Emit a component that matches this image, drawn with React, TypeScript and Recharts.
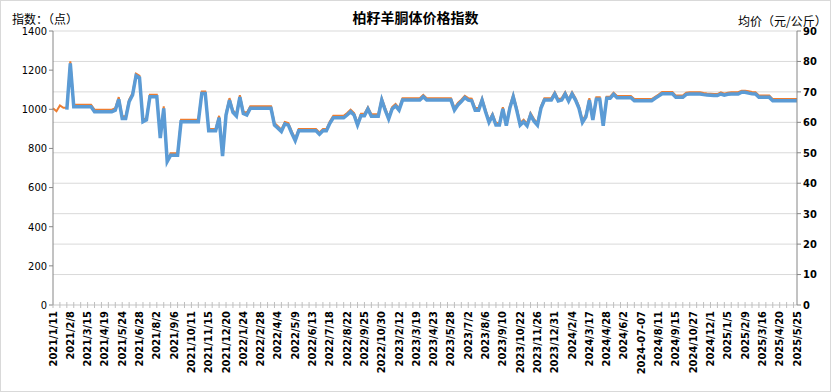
import React from "react";
import { LineChart, Line, XAxis, YAxis, CartesianGrid } from "recharts";

// x-axis labels, one every 5 weeks
const tickLabels = [
  "2021/1/11", "2021/2/8", "2021/3/15", "2021/4/19", "2021/5/24", "2021/6/28", "2021/8/2", "2021/9/6",
  "2021/10/11", "2021/11/15", "2021/12/20", "2022/1/24", "2022/2/28", "2022/4/4", "2022/5/9", "2022/6/13",
  "2022/7/18", "2022/8/22", "2022/9/25", "2022/10/30", "2023/2/12", "2023/3/19", "2023/4/23", "2023/5/28",
  "2023/7/2", "2023/8/6", "2023/9/10", "2023/10/22", "2023/11/26", "2023/12/31", "2024/2/4", "2024/3/17",
  "2024/4/28", "2024/6/2", "2024-07-07", "2024/8/11", "2024/9/15", "2024/10/27", "2024/12/1", "2025/1/5",
  "2025/2/9", "2025/3/16", "2025/4/20", "2025/5/25",
];

// 价格指数（点）
const indexValues = [
  1005, 990, 1020, 1008, 1008, 1245, 1023, 1023, 1023, 1023,
  1023, 1023, 998, 998, 998, 998, 998, 998, 1006, 1062,
  964, 964, 1049, 1083, 1182, 1171, 947, 955, 1074, 1074,
  1074, 862, 1015, 742, 776, 776, 776, 947, 947, 947,
  947, 947, 947, 1091, 1091, 899, 899, 899, 967, 771,
  981, 1057, 994, 976, 1072, 989, 981, 1015, 1015, 1015,
  1015, 1015, 1015, 1015, 930, 913, 896, 935, 930, 887,
  850, 899, 899, 899, 899, 899, 899, 882, 899, 899,
  938, 967, 967, 967, 967, 981, 998, 981, 930, 977,
  977, 1011, 975, 975, 975, 1057, 1006, 960, 1011, 1027,
  1006, 1057, 1057, 1057, 1057, 1057, 1057, 1074, 1057, 1057,
  1057, 1057, 1057, 1057, 1057, 1057, 1006, 1032, 1049, 1069,
  1057, 1054, 1006, 1006, 1057, 998, 943, 977, 930, 930,
  1011, 926, 1015, 1074, 1006, 930, 947, 926, 981, 950,
  930, 1015, 1057, 1057, 1057, 1088, 1052, 1057, 1088, 1052,
  1088, 1057, 1015, 943, 972, 1057, 955, 1061, 1061, 926,
  1064, 1064, 1085, 1068, 1068, 1068, 1068, 1068, 1052, 1052,
  1052, 1052, 1052, 1052, 1064, 1075, 1088, 1088, 1088, 1088,
  1070, 1070, 1070, 1085, 1087, 1087, 1087, 1087, 1083, 1081,
  1080, 1078, 1078, 1087, 1080, 1085, 1087, 1087, 1087, 1095,
  1095, 1092, 1088, 1087, 1070, 1070, 1070, 1070, 1052, 1052,
  1052, 1052, 1052, 1052, 1052, 1052,
];

// 均价（元/公斤）
const priceValues: (number | null)[] = [
  null, null, null, null, 64.2, 79.4, 65.1, 65.1, 65.1, 65.1,
  65.1, 65.1, 63.5, 63.5, 63.5, 63.5, 63.5, 63.5, 64.0, 67.6,
  61.3, 61.3, 66.8, 69.0, 75.3, 74.6, 60.2, 60.8, 68.4, 68.4,
  68.4, 54.8, 64.6, 47.1, 49.2, 49.2, 49.2, 60.2, 60.2, 60.2,
  60.2, 60.2, 60.2, 69.5, 69.5, 57.2, 57.2, 57.2, 61.5, 48.9,
  62.4, 67.3, 63.3, 62.1, 68.3, 62.9, 62.4, 64.6, 64.6, 64.6,
  64.6, 64.6, 64.6, 64.6, 59.1, 58.1, 57.0, 59.5, 59.1, 56.4,
  54.0, 57.2, 57.2, 57.2, 57.2, 57.2, 57.2, 56.1, 57.2, 57.2,
  59.7, 61.5, 61.5, 61.5, 61.5, 62.4, 63.5, 62.4, 59.1, 62.2,
  62.2, 64.4, 62.0, 62.0, 62.0, 67.3, 64.0, 61.1, 64.4, 65.4,
  64.0, 67.3, 67.3, 67.3, 67.3, 67.3, 67.3, 68.4, 67.3, 67.3,
  67.3, 67.3, 67.3, 67.3, 67.3, 67.3, 64.0, 65.7, 66.8, 68.1,
  67.3, 67.1, 64.0, 64.0, 67.3, 63.5, 60.0, 62.2, 59.1, 59.1,
  64.4, 58.9, 64.6, 68.4, 64.0, 59.1, 60.2, 58.9, 62.4, 60.4,
  59.1, 64.6, 67.3, 67.3, 67.3, 69.3, 67.0, 67.3, 69.3, 67.0,
  69.3, 67.3, 64.6, 60.0, 61.8, 67.3, 60.8, 67.6, 67.6, 58.9,
  67.9, 67.9, 69.2, 68.1, 68.1, 68.1, 68.1, 68.1, 67.1, 67.1,
  67.1, 67.1, 67.1, 67.1, 67.9, 68.6, 69.4, 69.4, 69.4, 69.4,
  68.2, 68.2, 68.2, 69.2, 69.3, 69.3, 69.3, 69.3, 69.1, 69.0,
  68.9, 68.8, 68.8, 69.3, 68.9, 69.2, 69.3, 69.3, 69.3, 69.9,
  69.9, 69.6, 69.4, 69.3, 68.2, 68.2, 68.2, 68.2, 67.1, 67.1,
  67.1, 67.1, 67.1, 67.1, 67.1, 67.1,
];

const leftTicks = [0, 200, 400, 600, 800, 1000, 1200, 1400];
const rightTicks = [0, 10, 20, 30, 40, 50, 60, 70, 80, 90];

const LABEL_EVERY = 5;
const MINOR_EVERY = 2;

const data = indexValues.map((v, i) => ({
  idx: i,
  index: v,
  price: priceValues[i],
}));

const xTicks = data.map((d) => d.idx);

const narrowFont = "'Liberation Sans Narrow', 'DejaVu Sans Condensed', 'Liberation Sans', sans-serif";
const cjkFont = "'Noto Sans CJK SC', 'Noto Sans', sans-serif";

const XTick = ({ x, y, payload }: any) => {
  const i = payload.value as number;
  const showLabel = i % LABEL_EVERY === 0;
  const showLine = i % MINOR_EVERY === 0;
  return (
    <g>
      {showLine && <line x1={x} x2={x} y1={y - 3} y2={y + 3} stroke="#bfbfbf" />}
      {showLabel && (
        <text
          x={x}
          y={y + 6}
          transform={`rotate(-90, ${x}, ${y + 6})`}
          textAnchor="end"
          dominantBaseline="central"
          fontSize={11}
          fontWeight="bold"
          fontFamily={narrowFont}
          fill="#000"
        >
          {tickLabels[i / LABEL_EVERY]}
        </text>
      )}
    </g>
  );
};

const App: React.FC = () => {
  return (
    <div style={{ position: "absolute", left: 0, top: 0, width: 831, height: 392, background: "#fff" }}>
      <LineChart
        width={831}
        height={392}
        data={data}
        margin={{ top: 31, right: 0, left: 8, bottom: 7 }}
      >
        <CartesianGrid yAxisId="right" vertical={false} stroke="#d9d9d9" />
        <XAxis
          dataKey="idx"
          type="number"
          domain={[0, indexValues.length - 1]}
          ticks={xTicks}
          interval={0}
          tick={<XTick />}
          tickLine={false}
          tickSize={0}
          tickMargin={0}
          height={80}
          axisLine={{ stroke: "#d9d9d9" }}
        />
        <YAxis
          yAxisId="left"
          domain={[0, 1400]}
          ticks={leftTicks}
          interval={0}
          width={45}
          axisLine={{ stroke: "#868686" }}
          tickLine={{ stroke: "#868686" }}
          tickSize={4}
          tick={{ fontSize: 11, fill: "#000", fontFamily: narrowFont }}
        />
        <YAxis
          yAxisId="right"
          orientation="right"
          domain={[0, 90]}
          ticks={rightTicks}
          interval={0}
          width={34}
          axisLine={{ stroke: "#868686" }}
          tickLine={{ stroke: "#868686" }}
          tickSize={4}
          tick={{ fontSize: 11, fill: "#000", fontWeight: "bold", fontFamily: narrowFont }}
        />
        <Line
          yAxisId="left"
          dataKey="index"
          stroke="#ED7D31"
          strokeWidth={2}
          dot={false}
          isAnimationActive={false}
        />
        <Line
          yAxisId="right"
          dataKey="price"
          stroke="#5B9BD5"
          strokeWidth={3.5}
          dot={false}
          isAnimationActive={false}
        />
      </LineChart>
      <div
        style={{
          position: "absolute",
          left: 0,
          top: 8,
          width: 831,
          textAlign: "center",
          fontFamily: cjkFont,
          fontWeight: "bold",
          fontSize: 14,
          lineHeight: "18px",
        }}
      >
        柏籽羊胴体价格指数
      </div>
      <div
        style={{
          position: "absolute",
          left: 12,
          top: 11,
          fontFamily: cjkFont,
          fontSize: 12,
          lineHeight: "16px",
          whiteSpace: "nowrap",
        }}
      >
        指数：（点）
      </div>
      <div
        style={{
          position: "absolute",
          left: 738,
          top: 13,
          fontFamily: cjkFont,
          fontSize: 12,
          lineHeight: "16px",
          whiteSpace: "nowrap",
        }}
      >
        均价（元/公斤）
      </div>
      <div
        style={{
          position: "absolute",
          left: 0,
          top: 0,
          width: 831,
          height: 392,
          boxSizing: "border-box",
          border: "1px solid #d9d9d9",
          pointerEvents: "none",
        }}
      />
    </div>
  );
};

export default App;
